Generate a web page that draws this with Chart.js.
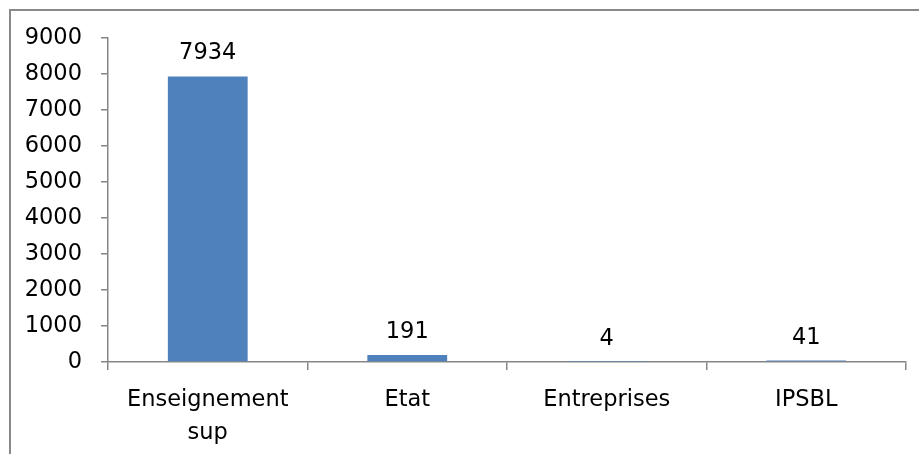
<!DOCTYPE html>
<html>
<head>
<meta charset="utf-8">
<script src="https://cdn.jsdelivr.net/npm/chart.js@4"></script>
<style>
  html, body { margin: 0; padding: 0; background: #fff; overflow: hidden; }
  #wrap { position: absolute; left: 0; top: 0; width: 919px; height: 454px; }
</style>
</head>
<body>
<div id="wrap"><canvas id="chart-bars"></canvas></div>
<script>
var categories = [["Enseignement", "sup"], "Etat", "Entreprises", "IPSBL"];
var values = [7934, 191, 4, 41];
var yTicks = [0, 1000, 2000, 3000, 4000, 5000, 6000, 7000, 8000, 9000];

var axisColor = "#868686";
var fontFamily = "DejaVu Sans";
var fontSize = 22.5;

// outer chart frame (only its left and top edges are in the picture)
var frame = {
  id: "frame",
  beforeDraw: function(chart) {
    var ctx = chart.ctx;
    ctx.save();
    ctx.strokeStyle = "#898989";
    ctx.lineWidth = 2;
    ctx.beginPath();
    ctx.moveTo(10, chart.height + 5);
    ctx.lineTo(10, 10);
    ctx.lineTo(chart.width + 5, 10);
    ctx.stroke();
    ctx.restore();
  }
};

// value labels above each bar
var valueLabels = {
  id: "valueLabels",
  afterDatasetsDraw: function(chart) {
    var ctx = chart.ctx;
    var meta = chart.getDatasetMeta(0);
    ctx.save();
    ctx.font = fontSize + "px '" + fontFamily + "'";
    ctx.fillStyle = "#000";
    ctx.textAlign = "center";
    ctx.textBaseline = "alphabetic";
    meta.data.forEach(function(bar, i) {
      ctx.fillText(String(values[i]), bar.x, bar.y - 17);
    });
    ctx.restore();
  }
};

var ctx = document.getElementById("chart-bars").getContext("2d");
new Chart(ctx, {
  type: "bar",
  data: {
    labels: categories,
    datasets: [{
      label: "values",
      data: values,
      backgroundColor: "#4F81BD",
      borderWidth: 0,
      barPercentage: 0.4,
      categoryPercentage: 1.0
    }]
  },
  options: {
    responsive: true,
    maintainAspectRatio: false,
    animation: false,
    devicePixelRatio: 1,
    layout: {
      padding: { left: 0, top: 38, right: 13, bottom: 0 }
    },
    plugins: {
      legend: { display: false },
      tooltip: { enabled: false }
    },
    scales: {
      y: {
        min: 0,
        max: 9000,
        afterBuildTicks: function(scale) {
          scale.ticks = yTicks.map(function(v) { return { value: v }; });
        },
        afterFit: function(scale) { scale.width = 108; },
        border: { display: true, color: axisColor, width: 1.5 },
        grid: {
          drawOnChartArea: false,
          drawTicks: true,
          tickLength: 7,
          color: axisColor,
          lineWidth: 1.5
        },
        ticks: {
          padding: 19,
          color: "#000",
          font: { size: fontSize, family: fontFamily },
          callback: function(v) { return String(v); }
        }
      },
      x: {
        afterFit: function(scale) { scale.height = 92; },
        border: { display: true, color: axisColor, width: 1.5 },
        grid: {
          offset: true,
          drawOnChartArea: false,
          drawTicks: true,
          tickLength: 8,
          color: axisColor,
          lineWidth: 1.5
        },
        ticks: {
          padding: 13,
          maxRotation: 0,
          autoSkip: false,
          color: "#000",
          font: { size: fontSize, family: fontFamily, lineHeight: 1.5 }
        }
      }
    }
  },
  plugins: [frame, valueLabels]
});
</script>
</body>
</html>
